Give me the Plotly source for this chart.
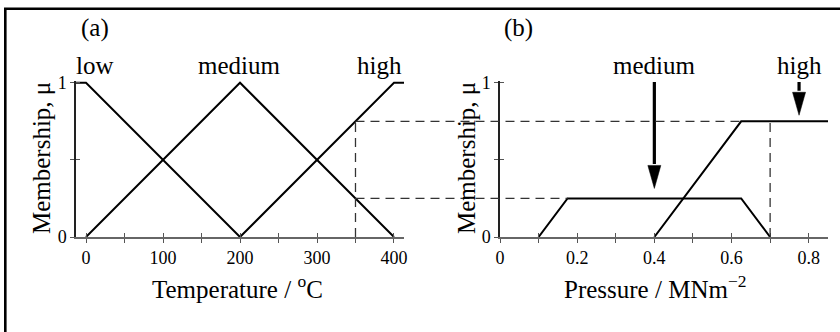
import plotly.graph_objects as go

# ---------------- data ----------------
temp_low_x = [-13, 0, 200]
temp_low_mu = [1, 1, 0]
temp_med_x = [0, 200, 400]
temp_med_mu = [0, 1, 0]
temp_high_x = [200, 400, 413]
temp_high_mu = [0, 1, 1]

press_med_x = [0.1, 0.175, 0.625, 0.7]
press_med_mu = [0, 0.25, 0.25, 0]
press_high_x = [0.4, 0.625, 0.85]
press_high_mu = [0, 0.75, 0.75]

temp_input = 350
mu_medium = 0.25
mu_high = 0.75
press_output = 0.7

temp_major = [0, 100, 200, 300, 400]
temp_major_text = ["0", "100", "200", "300", "400"]
temp_minor = [50, 150, 250, 350]
press_major = [0, 0.2, 0.4, 0.6, 0.8]
press_major_text = ["0", "0.2", "0.4", "0.6", "0.8"]
press_minor = [0.1, 0.3, 0.5, 0.7]
mu_major = [0, 1]
mu_major_text = ["0", "1"]
mu_minor = [0.5]

arrow_x = [0.4, 0.775]
arrow_target = [mu_medium, mu_high]
arrow_labels = ["medium", "high"]

# ---------------- layout geometry ----------------
W, H = 840, 332
FONT = "Liberation Serif, Times New Roman, serif"
left_range = [-13, 413]
right_range = [0, 0.85]
y_range = [0, 1.012]
left_dom = [76 / W, 404 / W]
right_dom = [500 / W, 828 / W]
y_dom = [(H - 237) / H, (H - 80.85) / H]
y_px_per_unit = (y_dom[1] - y_dom[0]) * H / (y_range[1] - y_range[0])
x2_px_per_unit = (right_dom[1] - right_dom[0]) * W / (right_range[1] - right_range[0])


def paper_x(val, rng, dom):
    return dom[0] + (val - rng[0]) / (rng[1] - rng[0]) * (dom[1] - dom[0])


line_style = dict(color="black", width=2)

fig = go.Figure()
for xs, ys in [(temp_low_x, temp_low_mu), (temp_med_x, temp_med_mu), (temp_high_x, temp_high_mu)]:
    fig.add_trace(go.Scatter(x=xs, y=ys, mode="lines", line=line_style,
                             xaxis="x", yaxis="y", showlegend=False, hoverinfo="skip"))
for xs, ys in [(press_med_x, press_med_mu), (press_high_x, press_high_mu)]:
    fig.add_trace(go.Scatter(x=xs, y=ys, mode="lines", line=line_style,
                             xaxis="x2", yaxis="y2", showlegend=False, hoverinfo="skip"))

# arrows in right panel
gap_px = [10, 6]
head_len_px = 23
head_half_w_px = 6.5
shaft_top = 1.005
for ax_x, tgt, g in zip(arrow_x, arrow_target, gap_px):
    tip = tgt + g / y_px_per_unit
    base = tip + head_len_px / y_px_per_unit
    hw = head_half_w_px / x2_px_per_unit
    fig.add_trace(go.Scatter(x=[ax_x, ax_x], y=[shaft_top, base + 0.01], mode="lines",
                             line=dict(color="black", width=3.2),
                             xaxis="x2", yaxis="y2", showlegend=False, hoverinfo="skip"))
    fig.add_trace(go.Scatter(x=[ax_x - hw, ax_x + hw, ax_x, ax_x - hw], y=[base, base, tip, base],
                             mode="lines", fill="toself", fillcolor="black",
                             line=dict(color="black", width=0.5),
                             xaxis="x2", yaxis="y2", showlegend=False, hoverinfo="skip"))

# invisible traces for the overlay (inside-tick) axes
fig.add_trace(go.Scatter(x=[], y=[], xaxis="x3", yaxis="y3", showlegend=False))
fig.add_trace(go.Scatter(x=[], y=[], xaxis="x4", yaxis="y4", showlegend=False))

TICKC = "#555"
tick_common = dict(ticklen=4, tickwidth=1, tickcolor=TICKC, showgrid=False, zeroline=False,
                   automargin=False)
tickfont = dict(family=FONT, size=18, color="black")


def minor(vals):
    return dict(tickmode="array", tickvals=vals, ticks="outside", ticklen=4,
                tickwidth=1, tickcolor=TICKC, showgrid=False)


fig.update_layout(
    template="none",
    width=W, height=H, autosize=False,
    margin=dict(l=0, r=0, t=0, b=0, pad=0),
    paper_bgcolor="white", plot_bgcolor="white",
    font=dict(family=FONT, color="black"),
    xaxis=dict(domain=left_dom, range=left_range, anchor="y", tickmode="array",
               tickvals=temp_major, ticktext=temp_major_text, ticks="outside", minor=minor(temp_minor),
               showline=True, linecolor="#666", linewidth=1.5, tickfont=tickfont, **tick_common),
    yaxis=dict(domain=y_dom, range=y_range, anchor="x", tickmode="array",
               tickvals=mu_major, ticktext=mu_major_text, ticks="outside", minor=minor(mu_minor),
               showline=True, linecolor="#222", linewidth=1.5, tickfont=tickfont, **tick_common),
    xaxis2=dict(domain=right_dom, range=right_range, anchor="y2", tickmode="array",
                tickvals=press_major, ticktext=press_major_text, ticks="outside", minor=minor(press_minor),
                showline=True, linecolor="#666", linewidth=1.5, tickfont=tickfont, **tick_common),
    yaxis2=dict(domain=y_dom, range=y_range, anchor="x2", tickmode="array",
                tickvals=mu_major, ticktext=mu_major_text, ticks="outside", minor=minor(mu_minor),
                showline=True, linecolor="#222", linewidth=1.5, tickfont=tickfont, **tick_common),
    xaxis3=dict(overlaying="x", range=left_range, anchor="y", tickmode="array",
                tickvals=temp_major + temp_minor, ticks="inside", showticklabels=False,
                showline=False, **tick_common),
    yaxis3=dict(overlaying="y", range=y_range, anchor="x", tickmode="array",
                tickvals=mu_major + mu_minor, ticks="inside", showticklabels=False,
                showline=False, **tick_common),
    xaxis4=dict(overlaying="x2", range=right_range, anchor="y2", tickmode="array",
                tickvals=press_major + press_minor, ticks="inside", showticklabels=False,
                showline=False, **tick_common),
    yaxis4=dict(overlaying="y2", range=y_range, anchor="x2", tickmode="array",
                tickvals=mu_major + mu_minor, ticks="inside", showticklabels=False,
                showline=False, **tick_common),
)

dash = dict(color="#333", width=1.3, dash="9px,6px")
shapes = [
    # outer frame
    dict(type="rect", xref="paper", yref="paper", x0=5.3 / W, x1=1.05, y0=-0.05, y1=(H - 8.7) / H,
         line=dict(color="black", width=2.6)),
    # vertical at temperature input
    dict(type="line", xref="x", yref="y", x0=temp_input, x1=temp_input, y0=0, y1=mu_high, line=dash),
    # horizontal lines across both panels
    dict(type="line", xref="paper", yref="y", x0=paper_x(temp_input, left_range, left_dom),
         x1=paper_x(press_high_x[1], right_range, right_dom), y0=mu_high, y1=mu_high, line=dash),
    dict(type="line", xref="paper", yref="y", x0=paper_x(temp_input, left_range, left_dom),
         x1=paper_x(press_med_x[1], right_range, right_dom), y0=mu_medium, y1=mu_medium, line=dash),
    # vertical at pressure output
    dict(type="line", xref="x2", yref="y2", x0=press_output, x1=press_output, y0=0, y1=mu_high, line=dash),
]
fig.update_layout(shapes=shapes)

lab_font = dict(family=FONT, size=25, color="black")


def ann(text, x, y, angle=0):
    return dict(text=text, xref="paper", yref="paper", x=x / W, y=(H - y) / H,
                xanchor="center", yanchor="middle", showarrow=False, font=lab_font, textangle=angle)


annotations = [
    ann("(a)", 95, 28),
    ann("(b)", 518, 28),
    ann("low", 95, 65),
    ann("medium", 239, 65),
    ann("high", 379, 65),
    ann("Temperature / <sup>o</sup>C", 237, 287),
    ann("Pressure / MNm<sup>−2</sup>", 655, 287),
    ann("Membership, μ", 41, 158, -90),
    ann("Membership, μ", 466, 158, -90),
]
for lab, ax_x in zip(arrow_labels, arrow_x):
    annotations.append(dict(text=lab, xref="x2", yref="paper", x=ax_x, y=(H - 65) / H,
                            xanchor="center", yanchor="middle", showarrow=False, font=lab_font))
fig.update_layout(annotations=annotations)

fig.write_html("out.html", config={"displayModeBar": False},
               post_script="document.body.style.margin='0';document.body.style.overflow='hidden';")
